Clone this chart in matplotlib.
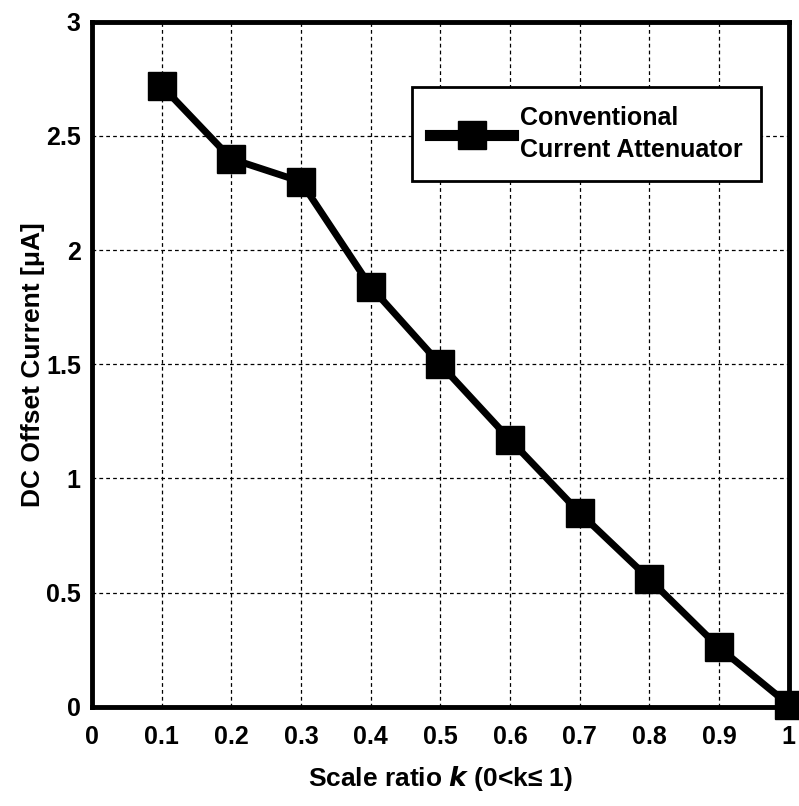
import matplotlib
matplotlib.use("Agg")
import matplotlib.pyplot as plt

k = [0.1, 0.2, 0.3, 0.4, 0.5, 0.6, 0.7, 0.8, 0.9, 1.0]
offset = [2.72, 2.40, 2.30, 1.84, 1.50, 1.17, 0.85, 0.56, 0.26, 0.01]
xticks = [0, 0.1, 0.2, 0.3, 0.4, 0.5, 0.6, 0.7, 0.8, 0.9, 1]
xticklabels = ["0", "0.1", "0.2", "0.3", "0.4", "0.5", "0.6", "0.7", "0.8", "0.9", "1"]
yticks = [0, 0.5, 1, 1.5, 2, 2.5, 3]
yticklabels = ["0", "0.5", "1", "1.5", "2", "2.5", "3"]

plt.rcParams['font.family'] = ['Liberation Sans', 'DejaVu Sans']
plt.rcParams['font.weight'] = 'bold'

fig = plt.figure(figsize=(7.99, 8.06), dpi=100)
ax = fig.add_axes([0.115, 0.123, 0.872, 0.850])
ax.plot(k, offset, color='black', linewidth=5, marker='s', markersize=20,
        markerfacecolor='black', markeredgecolor='black',
        label='Conventional\nCurrent Attenuator', clip_on=False, zorder=5)
ax.set_xlim(0, 1)
ax.set_ylim(0, 3)
ax.set_xticks(xticks)
ax.set_xticklabels(xticklabels)
ax.set_yticks(yticks)
ax.set_yticklabels(yticklabels)
ax.tick_params(axis='both', labelsize=18, length=0)
ax.tick_params(axis='x', pad=13)
ax.tick_params(axis='y', pad=8)
ax.grid(True, color='black', linestyle=(0, (3, 2.5)), linewidth=0.9)
for s in ax.spines.values():
    s.set_linewidth(3.5)
ax.set_xlabel('Scale ratio $\\mathbf{\\mathit{k}}$ (0<k≤ 1)', fontsize=19, fontweight='bold', labelpad=11)
ax.set_ylabel('DC Offset Current [μA]', fontsize=19, fontweight='bold', labelpad=1)
leg = ax.legend(loc='upper left', bbox_to_anchor=(0.459, 0.905, 0.502, 0), mode='expand',
                borderaxespad=0, fontsize=18, frameon=True, fancybox=False,
                edgecolor='black', handlelength=3.3, handletextpad=0.3,
                borderpad=0.75, markerscale=1.0)
leg.get_frame().set_linewidth(2)
leg.get_frame().set_alpha(1)
for t in leg.get_texts():
    t.set_linespacing(1.45)
for ln in leg.get_lines():
    ln.set_linewidth(8)
fig.savefig('out.png', dpi=100)
